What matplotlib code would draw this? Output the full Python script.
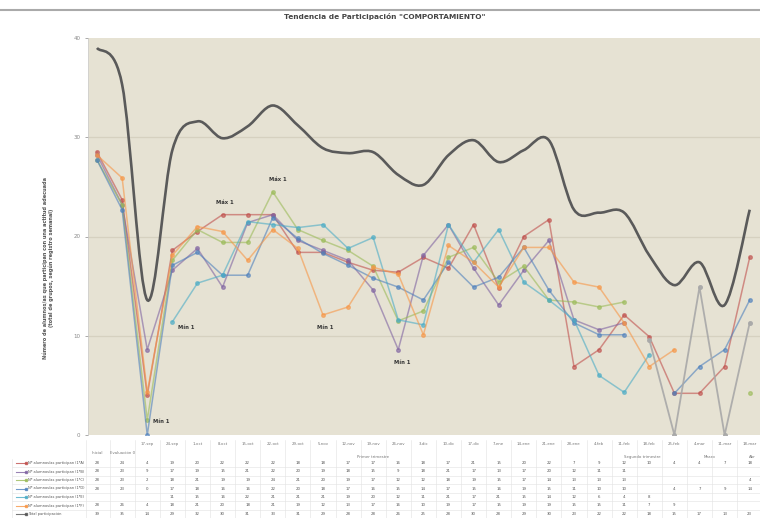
import numpy as np
import matplotlib
matplotlib.use("Agg")
import matplotlib.pyplot as plt
from matplotlib.path import Path
from matplotlib.patches import PathPatch
from matplotlib.lines import Line2D
from matplotlib import transforms

nan = np.nan

# categorias (columnas de la tabla)
categorias = ["Inicial", "Ev. 0", "17-sep", "24-sep", "1-oct", "8-oct", "15-oct", "22-oct",
              "29-oct", "5-nov", "12-nov", "19-nov", "26-nov", "3-dic", "10-dic", "17-dic",
              "7-ene", "14-ene", "21-ene", "28-ene", "4-feb", "11-feb", "18-feb", "25-feb",
              "4-mar", "11-mar", "18-mar"]
grupos = ["Inicial", "Evaluación 0", "Primer trimestre", "Segundo trimestre", "Marzo", "Abr"]
grupos_pos = [0, 1, 11, 21.7, 24.4, 26.1]

# series
nombres = ["Nº alumnos/as participan (1ºA)", "Nº alumnos/as participan (1ºB)",
           "Nº alumnos/as participan (1ºC)", "Nº alumnos/as participan (1ºD)",
           "Nº alumnos/as participan (1ºE)", "Nº alumnos/as participan (1ºF)",
           "Total participación"]
rojo = [28.5, 23.7, 4.0, 18.6, 20.5, 22.2, 22.2, 22.2, 18.4, 18.4, 17.4, 16.6, 16.4, 17.9,
        16.8, 21.2, 14.8, 20.0, 21.7, 6.9, 8.6, 12.1, 9.9, 4.2, 4.2, 6.9, 17.9]
morado = [28.2, 23.2, 8.6, 16.6, 18.8, 14.9, 21.4, 22.2, 19.6, 18.6, 17.6, 14.6, 8.6, 18.1,
          21.2, 16.8, 13.1, 16.6, 19.6, 11.6, 10.6, 11.3, nan, nan, nan, nan, nan]
verde = [27.7, 23.2, 1.5, 17.6, 20.7, 19.4, 19.4, 24.5, 20.7, 19.6, 18.6, 17.0, 11.5, 12.5,
         17.9, 18.9, 15.4, 17.0, 13.6, 13.4, 12.9, 13.4, nan, nan, nan, nan, 4.2]
azul = [27.7, 22.7, 0.0, 17.1, 18.4, 16.1, 16.1, 21.9, 19.8, 18.3, 17.1, 15.8, 14.9, 13.6,
        17.4, 14.9, 15.9, 18.9, 14.6, 11.3, 10.1, 10.1, nan, 4.2, 6.9, 8.6, 13.6]
turquesa = [nan, nan, nan, 11.4, 15.3, 16.1, 21.5, 21.2, 20.9, 21.2, 18.8, 19.9, 11.6, 11.1,
            21.2, 17.4, 20.7, 15.4, 13.6, 11.6, 6.0, 4.3, 8.1, nan, nan, nan, nan]
naranja = [28.2, 25.9, 4.3, 18.1, 21.0, 20.5, 17.6, 20.7, 18.8, 12.1, 12.9, 16.9, 16.2, 10.1,
           19.1, 17.4, 14.9, 18.9, 18.9, 15.4, 14.9, 11.3, 6.9, 8.6, nan, nan, nan]
gris = [nan] * 22 + [9.6, 0.0, 14.9, 0.0, 11.3]
total = [39.0, 35.3, 13.6, 28.7, 31.6, 29.9, 31.1, 33.2, 31.2, 28.9, 28.4, 28.5, 26.2, 25.2,
         28.2, 29.7, 27.5, 28.7, 29.7, 22.7, 22.4, 22.4, 18.1, 15.1, 17.4, 13.1, 22.7]

colores = ["#c0504d", "#8064a2", "#9bbb59", "#4f81bd", "#4bacc6", "#f79646", "#555555"]
series = [rojo, morado, verde, azul, turquesa, naranja]


def curva_suave(xs, ys):
    # Catmull-Rom -> Bezier (como la linea suavizada de Excel)
    p = np.column_stack([xs, ys])
    verts = [p[0]]
    codes = [Path.MOVETO]
    n = len(p)
    for i in range(n - 1):
        p0 = p[max(i - 1, 0)]
        p1 = p[i]
        p2 = p[i + 1]
        p3 = p[min(i + 2, n - 1)]
        verts += [p1 + (p2 - p0) / 6, p2 - (p3 - p1) / 6, p2]
        codes += [Path.CURVE4] * 3
    return Path(verts, codes)


def main():
    fig = plt.figure(figsize=(7.6, 5.18), dpi=100)
    fig.patch.set_facecolor("white")
    ax = fig.add_axes([88 / 760, 83 / 518, 672 / 760, 397 / 518])
    ax.set_facecolor("#e6e2d3")

    x = np.arange(len(categorias))
    ax.set_xlim(-0.36, 26.41)
    ax.set_ylim(0, 40)

    for yv in [10, 20, 30]:
        ax.axhline(yv, color="#d6d1c0", lw=0.9, zorder=0)

    for s, c in zip(series, colores):
        ax.plot(x, s, color=c, lw=1.1, alpha=0.6, marker="o", ms=2.6,
                mfc=c, mec=c, zorder=3)
    ax.plot(x, gris, color="#a8a8a8", lw=1.3, alpha=0.9, marker="o", ms=2.6, zorder=3)

    patch = PathPatch(curva_suave(x, total), fc="none", ec="#5a5a5a", lw=1.9, zorder=4)
    ax.add_patch(patch)

    # etiquetas de maximos / minimos
    notas = [(azul, 2, "Mín 1", (10, 10)), (turquesa, 3, "Mín 1", (10, -4)),
             (rojo, 5, "Máx 1", (2, 9)), (verde, 7, "Máx 1", (4, 9)),
             (naranja, 9, "Mín 1", (2, -9)), (morado, 12, "Mín 1", (3, -9))]
    for s, i, txt, off in notas:
        ax.annotate(txt, (x[i], s[i]), xytext=off, textcoords="offset points",
                    fontsize=3.8, fontweight="bold", color="#333333",
                    ha="center", va="center", zorder=5)

    ax.set_xticks([])
    ax.set_yticks([0, 10, 20, 30, 40])
    ax.tick_params(axis="y", labelsize=4, colors="#888888", length=2, width=0.5)
    for sp in ["top", "right", "bottom"]:
        ax.spines[sp].set_visible(False)
    ax.spines["left"].set_color("#cccccc")
    ax.spines["left"].set_linewidth(0.5)

    ax.set_ylabel("Número de alumnos/as que participan con una actitud adecuada\n"
                  "(total de grupos, según registro semanal)",
                  fontsize=3.6, fontweight="bold", color="#555555")
    ax.yaxis.set_label_coords(-0.05, 0.42)

    fig.text(385 / 760, 1 - 17 / 518, 'Tendencia de Participación "COMPORTAMIENTO"',
             ha="center", va="center", fontsize=5.3, fontweight="bold", color="#444444")
    fig.add_artist(Line2D([0, 1], [1 - 10 / 518, 1 - 10 / 518], color="#aaaaaa", lw=1.5))

    # tabla de datos bajo el grafico
    tr = transforms.blended_transform_factory(ax.transData, fig.transFigure)
    fy = lambda py: 1 - py / 518
    for i, cat in enumerate(categorias):
        if i >= 2:
            fig.text(x[i], fy(444), cat, transform=tr, ha="center", va="center",
                     fontsize=2.8, color="#777777")
    for g, gp in zip(grupos, grupos_pos):
        yy = 457 if gp > 1 else 453
        fig.text(gp, fy(yy), g, transform=tr, ha="center", va="center",
                 fontsize=2.8, color="#777777")

    filas_y = [463, 471.5, 480, 488.5, 497, 505.5, 514]
    datos_tabla = series + [total]
    for fila, (nom, c, vals, py) in enumerate(zip(nombres, colores, datos_tabla, filas_y)):
        fig.add_artist(Line2D([16 / 760, 26 / 760], [fy(py), fy(py)], color=c, lw=0.8,
                              marker="s", ms=1.5, markevery=[1], alpha=0.8))
        fig.text(28 / 760, fy(py), nom, ha="left", va="center", fontsize=2.6, color="#555555")
        for i, v in enumerate(vals):
            if not np.isnan(v):
                fig.text(x[i], fy(py), f"{v:.0f}", transform=tr, ha="center",
                         va="center", fontsize=2.8, color="#555555")
        fig.add_artist(Line2D([12 / 760, 1], [fy(py + 4.25), fy(py + 4.25)],
                              color="#e2e2e2", lw=0.4))
    for i in x:
        fig.add_artist(Line2D([i + 0.5, i + 0.5], [fy(440), 0], transform=tr,
                              color="#e2e2e2", lw=0.4))
    fig.add_artist(Line2D([12 / 760, 12 / 760], [fy(459), 0], color="#e2e2e2", lw=0.4))
    fig.add_artist(Line2D([86 / 760, 86 / 760], [fy(440), 0], color="#e2e2e2", lw=0.4))

    fig.savefig("out.png", dpi=100)
    plt.close(fig)


if __name__ == "__main__":
    main()
